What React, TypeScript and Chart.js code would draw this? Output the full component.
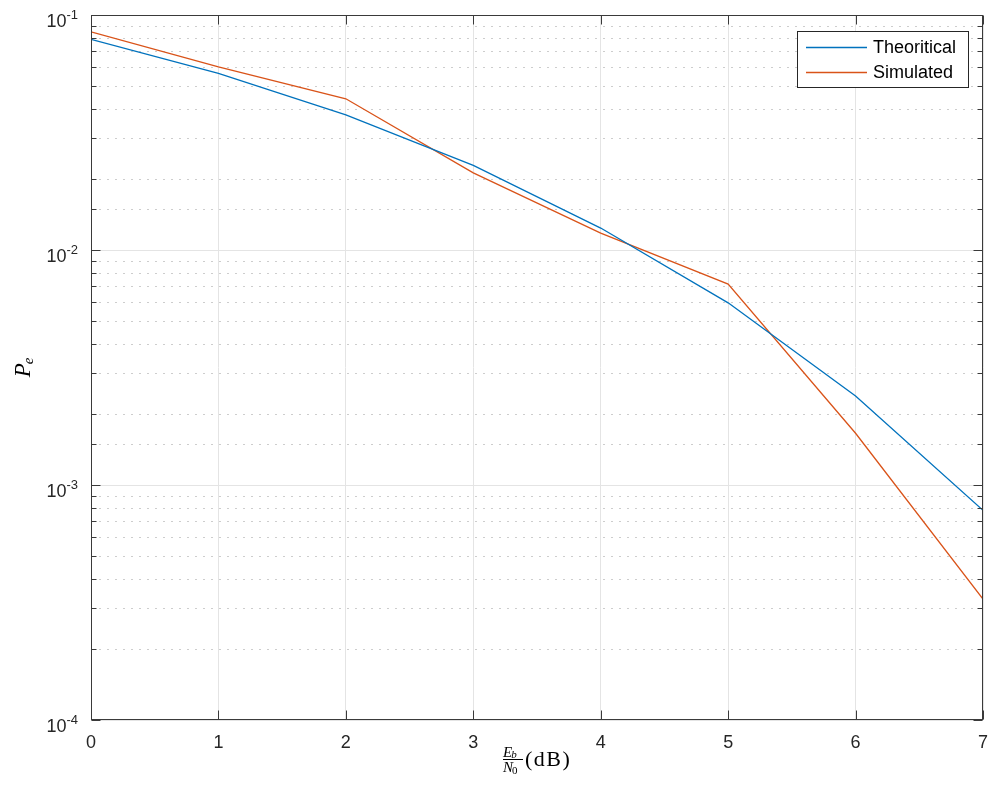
import React, { useEffect, useRef } from 'react';
import { Chart, registerables } from 'chart.js';

Chart.register(...registerables);

// ---- data ----
const snrDb = [0, 1, 2, 3, 4, 5, 6, 7];
const theoretical = [0.0788, 0.0564, 0.0376, 0.0229, 0.0124, 0.00596, 0.00239, 0.00078];
const simulated = [0.0848, 0.0601, 0.044, 0.0213, 0.0118, 0.00716, 0.00166, 0.000327];
const seriesNames = ['Theoritical', 'Simulated'];
const seriesColors = ['#0072BD', '#D95319'];
const xTickValues = [0, 1, 2, 3, 4, 5, 6, 7];
const yMin = 1e-4;
const yMax = 1e-1;

const SANS = '"Liberation Sans", Arial, Helvetica, sans-serif';
const SERIF = '"Liberation Serif", "Times New Roman", serif';
const AXIS_COLOR = '#3a3a3a';

const isDecade = (v: number) => {
  const l = Math.log10(v);
  return Math.abs(l - Math.round(l)) < 1e-6;
};

const matlabPlugin = {
  id: 'matlabLook',
  beforeDatasetsDraw(chart: any) {
    const { ctx, chartArea: a, scales } = chart;
    const y = scales.y;
    ctx.save();
    ctx.strokeStyle = '#cdcdcd';
    ctx.lineWidth = 1;
    ctx.setLineDash([2, 6]);
    for (const t of y.ticks) {
      if (isDecade(t.value)) continue;
      const py = Math.round(y.getPixelForValue(t.value)) + 0.5;
      ctx.beginPath();
      ctx.moveTo(a.left, py);
      ctx.lineTo(a.right, py);
      ctx.stroke();
    }
    ctx.restore();
  },
  afterDraw(chart: any) {
    const { ctx, chartArea: a, scales } = chart;
    const x = scales.x;
    const y = scales.y;
    ctx.save();
    // box
    ctx.strokeStyle = AXIS_COLOR;
    ctx.lineWidth = 1;
    ctx.setLineDash([]);
    const L = Math.round(a.left) + 0.5;
    const R = Math.round(a.right) - 0.5;
    const T = Math.round(a.top) + 0.5;
    const B = Math.round(a.bottom) - 0.5;
    ctx.strokeRect(L, T, R - L, B - T);
    // x ticks (inside, top & bottom)
    ctx.beginPath();
    for (const v of xTickValues) {
      const px = Math.round(x.getPixelForValue(v)) + 0.5;
      ctx.moveTo(px, B);
      ctx.lineTo(px, B - 9);
      ctx.moveTo(px, T);
      ctx.lineTo(px, T + 9);
    }
    // y ticks (inside, left & right)
    for (const t of y.ticks) {
      const py = Math.round(y.getPixelForValue(t.value)) + 0.5;
      const len = isDecade(t.value) ? 9 : 5;
      ctx.moveTo(L, py);
      ctx.lineTo(L + len, py);
      ctx.moveTo(R, py);
      ctx.lineTo(R - len, py);
    }
    ctx.stroke();

    // y tick labels 10^n
    ctx.fillStyle = '#262626';
    ctx.textBaseline = 'alphabetic';
    ctx.textAlign = 'right';
    for (const t of y.ticks) {
      if (!isDecade(t.value)) continue;
      const exp = String(Math.round(Math.log10(t.value)));
      const py = y.getPixelForValue(t.value);
      const rightX = 78;
      ctx.font = `13px ${SANS}`;
      const supW = ctx.measureText(exp).width;
      ctx.fillText(exp, rightX, py + 4);
      ctx.font = `18px ${SANS}`;
      ctx.fillText('10', rightX - supW, py + 12);
    }

    // y title: P_e (rotated)
    ctx.save();
    ctx.translate(30, 367);
    ctx.rotate(-Math.PI / 2);
    ctx.textAlign = 'left';
    ctx.fillStyle = '#000';
    ctx.font = `italic 23px ${SERIF}`;
    const pW = ctx.measureText('P').width;
    ctx.font = `italic 15px ${SERIF}`;
    const eW = ctx.measureText('e').width;
    const total = pW + eW;
    ctx.font = `italic 23px ${SERIF}`;
    ctx.fillText('P', -total / 2, 0);
    ctx.font = `italic 15px ${SERIF}`;
    ctx.fillText('e', -total / 2 + pW - 1, 3);
    ctx.restore();

    // x title: (E_b / N_0)(dB)
    ctx.fillStyle = '#000';
    ctx.textAlign = 'left';
    const fx = 503;
    ctx.font = `italic 15px ${SERIF}`;
    ctx.fillText('E', fx, 756.5);
    const eWid = ctx.measureText('E').width;
    ctx.font = `italic 11px ${SERIF}`;
    ctx.fillText('b', fx + eWid - 1, 758);
    ctx.font = `italic 15px ${SERIF}`;
    ctx.fillText('N', fx, 771.5);
    const nWid = ctx.measureText('N').width;
    ctx.font = `11px ${SERIF}`;
    ctx.fillText('0', fx + nWid - 1, 774);
    ctx.strokeStyle = '#000';
    ctx.lineWidth = 1;
    ctx.beginPath();
    ctx.moveTo(fx, 759.5);
    ctx.lineTo(fx + 20, 759.5);
    ctx.stroke();
    ctx.font = `22px ${SERIF}`;
    (ctx as any).letterSpacing = '1.5px';
    ctx.fillText('(dB)', 525, 766);
    (ctx as any).letterSpacing = '0px';

    // legend
    const lx = 797.5, ly = 31.5, lw = 171, lh = 56;
    ctx.fillStyle = '#fff';
    ctx.fillRect(lx, ly, lw, lh);
    ctx.strokeStyle = '#262626';
    ctx.lineWidth = 1;
    ctx.strokeRect(lx, ly, lw, lh);
    const rows = [47, 72];
    chart.data.datasets.forEach((ds: any, i: number) => {
      ctx.strokeStyle = ds.borderColor;
      ctx.lineWidth = 1.3;
      ctx.beginPath();
      ctx.moveTo(806, rows[i] + 0.5);
      ctx.lineTo(867, rows[i] + 0.5);
      ctx.stroke();
      ctx.fillStyle = '#000';
      ctx.font = `18px ${SANS}`;
      ctx.textBaseline = 'middle';
      ctx.fillText(ds.label, 873, rows[i] + 1);
    });
    ctx.restore();
  },
};

export default function App() {
  const canvasRef = useRef<HTMLCanvasElement | null>(null);

  useEffect(() => {
    if (!canvasRef.current) return;
    const chart = new Chart(canvasRef.current, {
      type: 'line',
      data: {
        datasets: [theoretical, simulated].map((vals, i) => ({
          label: seriesNames[i],
          data: snrDb.map((xv, j) => ({ x: xv, y: vals[j] })),
          borderColor: seriesColors[i],
          backgroundColor: seriesColors[i],
          borderWidth: 1.3,
          pointRadius: 0,
          tension: 0,
          fill: false,
        })),
      },
      options: {
        animation: false,
        responsive: false,
        devicePixelRatio: 1,
        layout: { autoPadding: false, padding: { top: 15, right: 6, left: 0, bottom: 0 } },
        plugins: {
          legend: { display: false },
          tooltip: { enabled: false },
        },
        scales: {
          x: {
            type: 'linear',
            min: 0,
            max: 7,
            border: { display: false },
            grid: { color: '#e4e4e4', lineWidth: 1, drawTicks: false },
            ticks: {
              stepSize: 1,
              padding: 12,
              color: '#262626',
              font: { family: SANS, size: 18 },
              maxRotation: 0,
            },
            afterFit: (s: any) => {
              s.height = 71;
              s.paddingLeft = 0;
              s.paddingRight = 0;
            },
          },
          y: {
            type: 'logarithmic',
            min: yMin,
            max: yMax,
            border: { display: false },
            grid: {
              drawTicks: false,
              lineWidth: 1,
              color: (c: any) => (c.tick && isDecade(c.tick.value) ? '#e4e4e4' : 'rgba(0,0,0,0)'),
            },
            ticks: { display: false, autoSkip: false },
            afterFit: (s: any) => {
              s.width = 91;
              s.paddingTop = 0;
              s.paddingBottom = 0;
            },
          },
        },
      } as any,
      plugins: [matlabPlugin],
    });
    return () => chart.destroy();
  }, []);

  return (
    <div style={{ position: 'fixed', left: 0, top: 0, width: 989, height: 791, background: '#fff' }}>
      <canvas ref={canvasRef} width={989} height={791} style={{ display: 'block' }} />
    </div>
  );
}
